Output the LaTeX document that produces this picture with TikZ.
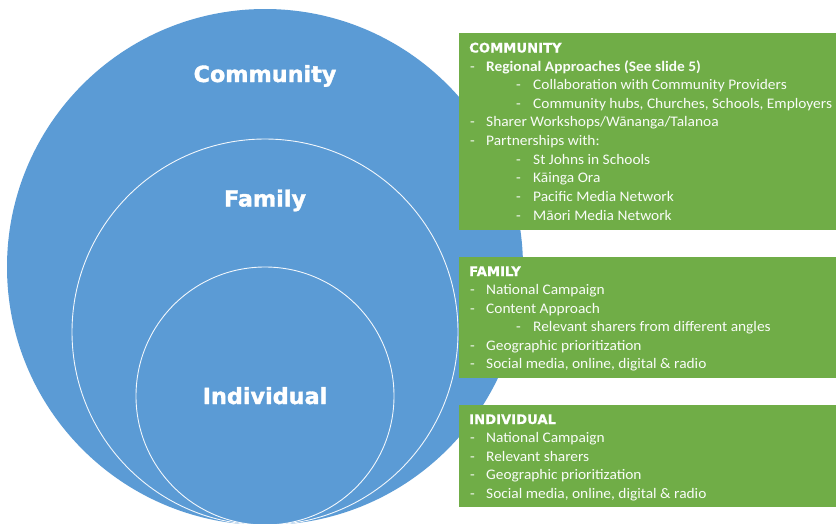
\documentclass[tikz,border=0pt]{standalone}
\usepackage{fontspec}
\setmainfont{Carlito}[FakeStretch=1.055]
\newfontfamily\headfont{DejaVu Sans Bold}[FakeBold=1.6]
\newfontfamily\titlefont{DejaVu Sans Bold}[FakeBold=0.6]
\definecolor{ringblue}{HTML}{5B9BD5}
\definecolor{panelgreen}{HTML}{70AD47}
\tikzset{
  ring/.style={circle, inner sep=0pt, fill=ringblue},
  ringedge/.style={ring, draw=white!92!ringblue, line width=0.9pt},
  ringlabel/.style={text=white, inner sep=0pt, anchor=base,
    font=\headfont\fontsize{22.3}{26}\selectfont},
  panel/.style={fill=panelgreen, inner sep=0pt, anchor=north west},
  paneltitle/.style={text=white, inner sep=0pt, anchor=base west,
    font=\titlefont\fontsize{13.2}{15}\selectfont},
  entry/.style={text=white!96!panelgreen, inner sep=0pt, anchor=base west,
    font=\fontsize{14.6}{16}\selectfont},
}
% one bulleted line: name, dash x, text x, baseline y, text
\newcommand\panelline[5]{%
  \node[entry] (#1d) at (#2,#4) {-};
  \node[entry] (#1) at (#3,#4) {#5};}
\begin{document}
\begin{tikzpicture}[x=1pt,y=-1pt]
\useasboundingbox (0,0) rectangle (836,523);
\begin{scope}
  \clip (0,0) rectangle (836,523);
  \node[ring, minimum size=516pt] (community) at (265,267) {};
  \node[ringedge, minimum size=386pt] (family) at (265,332) {};
  \node[ringedge, minimum size=258pt] (individual) at (265,396) {};
\end{scope}
\node[ringlabel] (communitylabel) at (265,82) {Community};
\node[ringlabel] (familylabel) at (265,206.5) {Family};
\node[ringlabel] (individuallabel) at (265,404) {Individual};

% community panel
\node[panel, minimum width=377pt, minimum height=197pt] (commbox) at (459,33) {};
\node[paneltitle] (commtitle) at (469,52.5) {COMMUNITY};
\panelline{c1}{470}{486}{71}{\bfseries Regional Approaches (See slide 5)}
\panelline{c2}{516}{533}{89.65}{Collaboration with Community Providers}
\panelline{c3}{516}{533}{108.3}{Community hubs, Churches, Schools, Employers}
\panelline{c4}{470}{486}{126.95}{Sharer Workshops/Wānanga/Talanoa}
\panelline{c5}{470}{486}{145.6}{Partnerships with:}
\panelline{c6}{516}{533}{164.25}{St Johns in Schools}
\panelline{c7}{516}{533}{182.9}{Kāinga Ora}
\panelline{c8}{516}{533}{201.55}{Pacific Media Network}
\panelline{c9}{516}{533}{220.2}{Māori Media Network}

% family panel
\node[panel, minimum width=377pt, minimum height=121pt] (fambox) at (459,257) {};
\node[paneltitle] (famtitle) at (469,276) {FAMILY};
\panelline{f1}{470}{486}{294.5}{National Campaign}
\panelline{f2}{470}{486}{313.1}{Content Approach}
\panelline{f3}{516}{533}{331.7}{Relevant sharers from different angles}
\panelline{f4}{470}{486}{350.3}{Geographic prioritization}
\panelline{f5}{470}{486}{368.9}{Social media, online, digital \& radio}

% individual panel
\node[panel, minimum width=377pt, minimum height=102pt] (indbox) at (459,405) {};
\node[paneltitle] (indtitle) at (469,424) {INDIVIDUAL};
\panelline{i1}{470}{486}{442.5}{National Campaign}
\panelline{i2}{470}{486}{461}{Relevant sharers}
\panelline{i3}{470}{486}{479.5}{Geographic prioritization}
\panelline{i4}{470}{486}{498}{Social media, online, digital \& radio}
\end{tikzpicture}
\end{document}
